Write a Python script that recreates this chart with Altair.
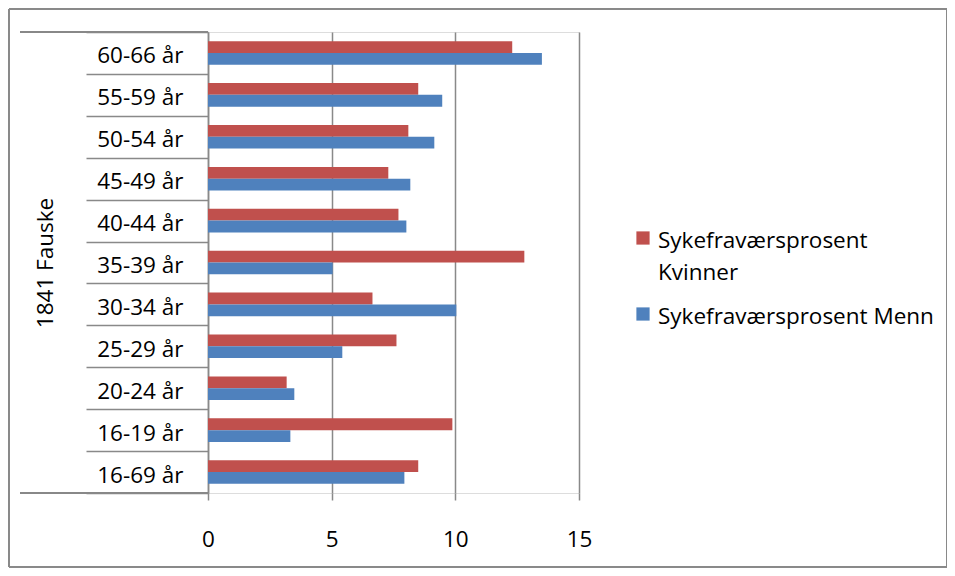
import altair as alt
import pandas as pd

categories = ["16-69 år", "16-19 år", "20-24 år", "25-29 år", "30-34 år", "35-39 år",
              "40-44 år", "45-49 år", "50-54 år", "55-59 år", "60-66 år"]
series = ["Sykefraværsprosent Kvinner", "Sykefraværsprosent Menn"]
kvinner = [8.5, 9.88, 3.18, 7.62, 6.65, 12.79, 7.7, 7.29, 8.1, 8.5, 12.3]
menn = [7.94, 3.33, 3.49, 5.43, 10.04, 5.04, 8.02, 8.18, 9.15, 9.47, 13.5]
x_ticks = [0, 5, 10, 15]
group_title = "1841 Fauske"
colors = ["#C0504D", "#4F81BD"]

rows = []
for c, k, m in zip(categories, kvinner, menn):
    rows.append({"Alder": c, "Serie": series[0], "Verdi": k})
    rows.append({"Alder": c, "Serie": series[1], "Verdi": m})
df = pd.DataFrame(rows)

FONT = "Open Sans"
FS = 22.5
GRAY = "#898989"
W, H = 371, 461

bars = alt.Chart(df).mark_bar().encode(
    y=alt.Y("Alder:N", sort=list(reversed(categories)),
            scale=alt.Scale(paddingInner=0, paddingOuter=0),
            axis=alt.Axis(title=group_title, tickBand="extent", tickSize=122,
                          tickColor=GRAY, tickWidth=1.5, labelPadding=-97, labelOffset=3,
                          labelFont=FONT, labelFontSize=FS, labelColor="black",
                          domainColor=GRAY, domainWidth=1.5,
                          titleFont=FONT, titleFontSize=FS, titleFontWeight="normal",
                          titleColor="black", titleX=-163, titleY=H / 2,
                          titleAngle=270, titleAlign="center", titleBaseline="middle")),
    yOffset=alt.YOffset("Serie:N", sort=series,
                        scale=alt.Scale(paddingInner=0, paddingOuter=0.775)),
    x=alt.X("Verdi:Q", scale=alt.Scale(domain=[0, 15], nice=False),
            axis=alt.Axis(values=x_ticks, title=None, domain=False, grid=True,
                          gridColor=GRAY, gridWidth=1.5, tickColor=GRAY, tickWidth=1.5,
                          tickSize=7, labelPadding=28, labelFont=FONT, labelFontSize=FS,
                          labelColor="black", labelFlush=False)),
    color=alt.Color("Serie:N", scale=alt.Scale(domain=series, range=colors), legend=None),
)

top_rule = alt.Chart(df).mark_rule(color=GRAY, strokeWidth=1.5).encode(
    x=alt.value(-188), x2=alt.value(0), y=alt.value(0))
bottom_rule = alt.Chart(df).mark_rule(color=GRAY, strokeWidth=1.5).encode(
    x=alt.value(-188), x2=alt.value(0), y=alt.value(H))
frame = alt.Chart(df).mark_rect(fill=None, stroke=GRAY, strokeWidth=1).encode(
    x=alt.value(-199), x2=alt.value(739), y=alt.value(-23), y2=alt.value(535))

# manual legend (two entries)
leg_df = pd.DataFrame({"Serie": series, "Farge": colors})
leg_layers = []
sym_y = [206, 282]
txt_y = [216, 292]
for i, name in enumerate(series):
    d = leg_df.iloc[[i]]
    leg_layers.append(
        alt.Chart(d).mark_square(size=175, opacity=1).encode(
            x=alt.value(435), y=alt.value(sym_y[i]), color=alt.value(colors[i])))
    lines = name.split(" ") if i == 0 else name
    leg_layers.append(
        alt.Chart(d).mark_text(text=lines, font=FONT, fontSize=FS, align="left",
                               baseline="alphabetic", lineHeight=32, color="black").encode(
            x=alt.value(450), y=alt.value(txt_y[i])))

chart = alt.layer(frame, top_rule, bottom_rule, bars, *leg_layers).properties(
    width=W, height=H,
    autosize=alt.AutoSizeParams(type="none"),
    padding={"left": 200, "top": 24, "right": 368, "bottom": 75},
).configure_view(stroke=None).configure(background="white")

chart.save("out.html", embed_options={"renderer": "svg", "actions": False})
